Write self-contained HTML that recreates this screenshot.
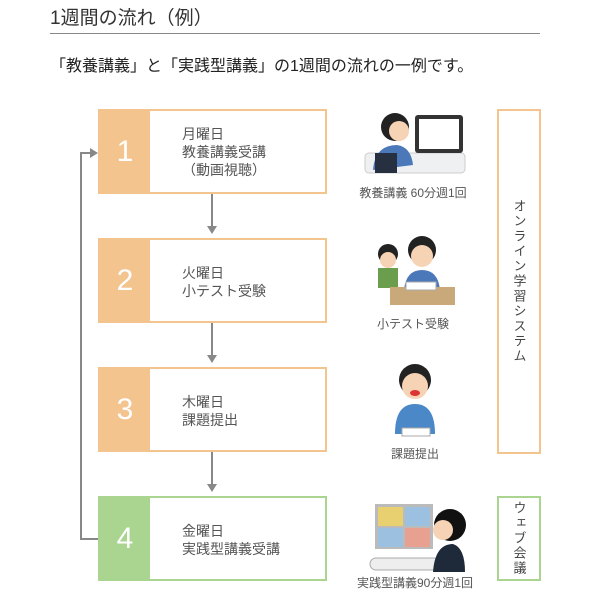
<!DOCTYPE html>
<html><head><meta charset="utf-8"><style>
body{margin:0;width:600px;height:605px;background:#fff;font-family:"Liberation Sans","Noto Sans CJK JP",sans-serif;color:#444;position:relative;overflow:hidden}
.a{position:absolute}
.box{position:absolute;left:98px;width:225px;height:81px;border:2px solid #f3c48e;background:#fff}
.num{position:absolute;left:0;top:0;width:50px;height:100%;background:#f3c48e;color:#fff;font-size:30px;display:flex;align-items:center;justify-content:center}
.txt{position:absolute;left:82px;font-size:14px;line-height:18px;color:#555}
.g{border-color:#a9d590}.g .num{background:#a9d590}
.cap{position:absolute;font-size:12px;color:#555;text-align:center;width:160px}
.vl{position:absolute;width:1.5px;background:#888}
.ar{position:absolute;width:0;height:0;border-left:5px solid transparent;border-right:5px solid transparent;border-top:8px solid #888}
.side{position:absolute;left:497px;width:40px;border:2px solid #f3c48e;writing-mode:vertical-rl;font-size:13px;display:flex;align-items:center;justify-content:center;color:#444;letter-spacing:2px}
</style></head><body>
<div class="a" style="left:50px;top:3px;font-size:19px;color:#333">1週間の流れ（例）</div>
<div class="a" style="left:50px;top:33px;width:490px;height:1px;background:#888"></div>
<div class="a" style="left:50px;top:52px;font-size:16px;color:#222">「教養講義」と「実践型講義」の1週間の流れの一例です。</div>

<div class="box" style="top:109px"><div class="num">1</div><div class="txt" style="top:14px">月曜日<br>教養講義受講<br>（動画視聴）</div></div>
<div class="box" style="top:238px"><div class="num">2</div><div class="txt" style="top:24px">火曜日<br>小テスト受験</div></div>
<div class="box" style="top:367px"><div class="num">3</div><div class="txt" style="top:24px">木曜日<br>課題提出</div></div>
<div class="box g" style="top:496px"><div class="num">4</div><div class="txt" style="top:24px">金曜日<br>実践型講義受講</div></div>

<div class="vl" style="left:211px;top:194px;height:34px"></div><div class="ar" style="left:207px;top:226px"></div>
<div class="vl" style="left:211px;top:323px;height:34px"></div><div class="ar" style="left:207px;top:355px"></div>
<div class="vl" style="left:211px;top:452px;height:34px"></div><div class="ar" style="left:207px;top:484px"></div>
<div class="vl" style="left:80px;top:152px;height:387px"></div>
<div class="a" style="left:80px;top:538px;width:18px;height:1.5px;background:#888"></div>
<div class="a" style="left:80px;top:152px;width:12px;height:1.5px;background:#888"></div>
<div class="a" style="left:90px;top:148px;border-top:5px solid transparent;border-bottom:5px solid transparent;border-left:8px solid #888"></div>

<div class="side" style="top:109px;height:341px">オンライン学習システム</div>
<div class="side" style="top:496px;height:81px;border-color:#a9d590">ウェブ会議</div>

<!-- illustrations -->
<svg class="a" style="left:355px;top:105px" width="120" height="80">
<rect x="10" y="48" width="100" height="20" rx="4" fill="#eef0f2" stroke="#ccc"/>
<rect x="60" y="10" width="48" height="38" rx="3" fill="#333"/><rect x="64" y="14" width="40" height="30" fill="#fff"/>
<circle cx="40" cy="22" r="14" fill="#222"/><circle cx="44" cy="26" r="10" fill="#f6d3b5"/>
<path d="M18 65 Q20 40 42 40 Q56 42 58 60 Z" fill="#4a78b8"/><rect x="20" y="48" width="22" height="20" fill="#263040"/>
</svg>
<div class="cap" style="left:333px;top:184px">教養講義 60分週1回</div>

<svg class="a" style="left:370px;top:232px" width="90" height="80">
<circle cx="18" cy="22" r="10" fill="#222"/><circle cx="18" cy="28" r="8" fill="#f6d3b5"/><rect x="8" y="36" width="20" height="20" fill="#6b9e4c"/>
<circle cx="52" cy="18" r="14" fill="#222"/><circle cx="52" cy="24" r="11" fill="#f6d3b5"/>
<path d="M34 58 Q36 38 52 38 Q68 38 70 58Z" fill="#4a78b8"/>
<rect x="20" y="55" width="65" height="18" fill="#c9a97a"/><rect x="36" y="50" width="30" height="8" fill="#fff" stroke="#aaa"/>
</svg>
<div class="cap" style="left:333px;top:315px">小テスト受験</div>

<svg class="a" style="left:390px;top:362px" width="50" height="80">
<circle cx="25" cy="18" r="16" fill="#222"/><circle cx="25" cy="24" r="13" fill="#f6d3b5"/><ellipse cx="25" cy="31" rx="5" ry="3" fill="#d33"/>
<path d="M5 72 Q5 42 25 42 Q45 42 45 72Z" fill="#4a88c8"/><rect x="12" y="66" width="28" height="8" fill="#fff" stroke="#aaa"/>
</svg>
<div class="cap" style="left:335px;top:445px">課題提出</div>

<svg class="a" style="left:365px;top:500px" width="105" height="75">
<rect x="10" y="4" width="58" height="45" fill="#bbb"/>
<rect x="13" y="7" width="25" height="19" fill="#e8d070"/><rect x="40" y="7" width="25" height="19" fill="#9cc0e0"/>
<rect x="13" y="28" width="25" height="19" fill="#9cc0e0"/><rect x="40" y="28" width="25" height="19" fill="#e8a090"/>
<rect x="5" y="58" width="70" height="12" rx="6" fill="#eee" stroke="#aaa"/>
<circle cx="85" cy="25" r="16" fill="#111"/><circle cx="78" cy="30" r="10" fill="#f6d3b5"/>
<path d="M68 72 Q70 44 88 44 Q100 48 100 72Z" fill="#1e2a3a"/>
</svg>
<div class="cap" style="left:335px;top:574px">実践型講義90分週1回</div>
</body></html>
